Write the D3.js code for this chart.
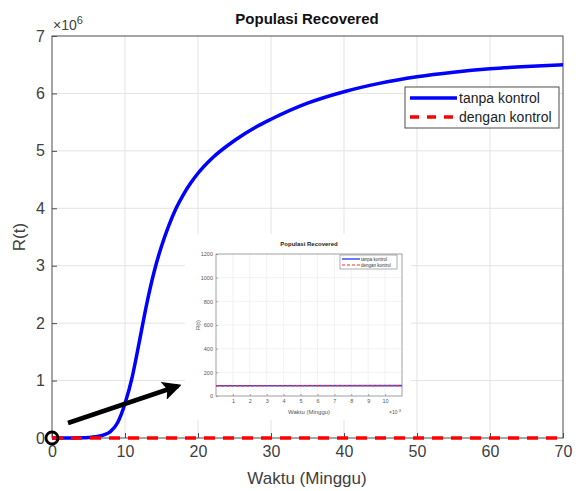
<!DOCTYPE html>
<html>
<head>
<meta charset="utf-8">
<script src="https://cdn.jsdelivr.net/npm/d3@7"></script>
<style>
  body { margin: 0; background: #fff; }
  text { font-family: "Liberation Sans", Arial, sans-serif; }
</style>
</head>
<body>
<div class="graph"></div>
<script>
// main chart data (R in units of 1e6)
var tWeeks = [0, 2, 4, 5, 6, 7, 8, 9, 10, 11, 12, 13, 14, 15, 16, 17, 18, 19, 20, 22, 25, 28, 30, 35, 40, 45, 50, 55, 60, 65, 70];
var rTanpa = [0, 0, 0.003, 0.008, 0.02, 0.05, 0.11, 0.27, 0.6, 1.07, 1.7, 2.35, 2.9, 3.34, 3.7, 4.0, 4.24, 4.44, 4.61, 4.88, 5.18, 5.42, 5.55, 5.83, 6.03, 6.18, 6.29, 6.37, 6.43, 6.47, 6.5];
var tDengan = [0, 70];
var rDengan = [0.002, 0.002];
var xTicks = [0, 10, 20, 30, 40, 50, 60, 70];
var yTicks = [0, 1, 2, 3, 4, 5, 6, 7];

// inset data (time in 1e-3 weeks)
var insetT = [0, 11];
var insetTanpa = [86, 88];
var insetDengan = [86, 88];
var insetXTicks = [1, 2, 3, 4, 5, 6, 7, 8, 9, 10];
var insetYTicks = [0, 200, 400, 600, 800, 1000, 1200];

var blue = "#0000ff", red = "#ff0000", gridColor = "#e3e3e3", axisColor = "#4d4d4d", labelColor = "#404040";

function createGraph() {
    var svgWidth = 584, svgHeight = 491;
    var margin = {top: 36, right: 21, bottom: 53, left: 52};
    var width = svgWidth - margin.left - margin.right;
    var height = svgHeight - margin.top - margin.bottom;

    var svg = d3.select("div.graph").append("svg")
        .attr("width", svgWidth)
        .attr("height", svgHeight);

    var g = svg.append("g")
        .attr("transform", "translate(" + margin.left + "," + margin.top + ")");

    var x = d3.scaleLinear().domain([0, 70]).range([0, width]);
    var y = d3.scaleLinear().domain([0, 7]).range([height, 0]);

    // grid
    g.append("g").selectAll("line.gx").data(xTicks.slice(1, -1)).enter().append("line")
        .attr("x1", d => x(d)).attr("x2", d => x(d)).attr("y1", 0).attr("y2", height)
        .attr("stroke", gridColor);
    g.append("g").selectAll("line.gy").data(yTicks.slice(1, -1)).enter().append("line")
        .attr("y1", d => y(d)).attr("y2", d => y(d)).attr("x1", 0).attr("x2", width)
        .attr("stroke", gridColor);

    // axes
    var xAxis = g.append("g")
        .attr("transform", "translate(0," + height + ")")
        .call(d3.axisBottom(x).tickValues(xTicks).tickFormat(d3.format("d")).tickSize(-5).tickPadding(8));
    var yAxis = g.append("g")
        .call(d3.axisLeft(y).tickValues(yTicks).tickFormat(d3.format("d")).tickSize(-5).tickPadding(7));
    [xAxis, yAxis].forEach(function (a) {
        a.select(".domain").remove();
        a.selectAll("line").attr("stroke", axisColor);
        a.selectAll("text").attr("fill", labelColor).style("font-size", "16px")
            .style("font-family", "Liberation Sans, Arial, sans-serif");
    });
    g.append("rect")
        .attr("width", width).attr("height", height)
        .attr("fill", "none").attr("stroke", axisColor).attr("stroke-width", 1);

    var line = d3.line()
        .x(function (d) { return x(d[0]); })
        .y(function (d) { return y(d[1]); })
        .curve(d3.curveMonotoneX);

    g.append("path")
        .datum(d3.zip(tWeeks, rTanpa))
        .attr("fill", "none")
        .attr("stroke", blue)
        .attr("stroke-width", 3.5)
        .attr("stroke-linejoin", "round")
        .attr("d", line);

    g.append("path")
        .datum(d3.zip(tDengan, rDengan))
        .attr("fill", "none")
        .attr("stroke", red)
        .attr("stroke-width", 3.5)
        .attr("stroke-dasharray", "11,8")
        .attr("d", line);

    // title and labels
    svg.append("text")
        .attr("x", 307).attr("y", 24)
        .attr("text-anchor", "middle")
        .attr("fill", "#111")
        .style("font-size", "15px").style("font-weight", "bold")
        .text("Populasi Recovered");

    var exp = svg.append("text")
        .attr("x", 53).attr("y", 30)
        .attr("fill", labelColor)
        .style("font-size", "14px");
    exp.append("tspan").text("\u00d710");
    exp.append("tspan").attr("dy", -6).style("font-size", "11px").text("6");

    svg.append("text")
        .attr("transform", "translate(25," + (margin.top + height / 2) + ") rotate(-90)")
        .attr("text-anchor", "middle")
        .attr("fill", labelColor)
        .style("font-size", "17px")
        .text("R(t)");

    svg.append("text")
        .attr("x", 307).attr("y", 484)
        .attr("text-anchor", "middle")
        .attr("fill", labelColor)
        .style("font-size", "17px")
        .text("Waktu (Minggu)");

    // legend
    var lg = svg.append("g").attr("transform", "translate(405,87)");
    lg.append("rect").attr("width", 154).attr("height", 41)
        .attr("fill", "#fff").attr("stroke", axisColor);
    lg.append("line").attr("x1", 5).attr("x2", 52).attr("y1", 11).attr("y2", 11)
        .attr("stroke", blue).attr("stroke-width", 3.5);
    lg.append("line").attr("x1", 5).attr("x2", 52).attr("y1", 30).attr("y2", 30)
        .attr("stroke", red).attr("stroke-width", 3.5).attr("stroke-dasharray", "9,8");
    lg.append("text").attr("x", 54).attr("y", 16).attr("fill", "#222")
        .style("font-size", "14px").text("tanpa kontrol");
    lg.append("text").attr("x", 54).attr("y", 35).attr("fill", "#222")
        .style("font-size", "14px").text("dengan kontrol");

    createInset(svg);

    // marker circle and arrow
    svg.append("circle")
        .attr("cx", margin.left).attr("cy", margin.top + height).attr("r", 6)
        .attr("fill", "none").attr("stroke", "#000").attr("stroke-width", 2.8);

    var defs = svg.append("defs");
    defs.append("marker")
        .attr("id", "head")
        .attr("viewBox", "0 0 10 10")
        .attr("refX", 8).attr("refY", 5)
        .attr("markerWidth", 4.2).attr("markerHeight", 4.2)
        .attr("orient", "auto")
        .append("path").attr("d", "M0,0 L10,5 L0,10 L2,5 Z").attr("fill", "#000");
    svg.append("line")
        .attr("x1", 68).attr("y1", 423).attr("x2", 178).attr("y2", 386)
        .attr("stroke", "#000").attr("stroke-width", 4.5)
        .attr("marker-end", "url(#head)");
}

function createInset(svg) {
    // inset screenshot panel
    var panel = svg.append("g");
    panel.append("rect")
        .attr("x", 185).attr("y", 234).attr("width", 226).attr("height", 186)
        .attr("fill", "#fff");

    var left = 216, top = 254, right = 402, bottom = 396;
    var ig = panel.append("g").attr("transform", "translate(" + left + "," + top + ")");
    var w = right - left, h = bottom - top;
    var x = d3.scaleLinear().domain([0, 11]).range([0, w]);
    var y = d3.scaleLinear().domain([0, 1200]).range([h, 0]);

    ig.append("g").selectAll("line").data(insetXTicks).enter().append("line")
        .attr("x1", d => x(d)).attr("x2", d => x(d)).attr("y1", 0).attr("y2", h)
        .attr("stroke", "#ececec").attr("stroke-width", 0.7);
    ig.append("g").selectAll("line").data(insetYTicks.slice(1, -1)).enter().append("line")
        .attr("y1", d => y(d)).attr("y2", d => y(d)).attr("x1", 0).attr("x2", w)
        .attr("stroke", "#ececec").attr("stroke-width", 0.7);

    var xa = ig.append("g").attr("transform", "translate(0," + h + ")")
        .call(d3.axisBottom(x).tickValues(insetXTicks).tickFormat(d3.format("d")).tickSize(-2).tickPadding(3));
    var ya = ig.append("g")
        .call(d3.axisLeft(y).tickValues(insetYTicks).tickFormat(d3.format("d")).tickSize(-2).tickPadding(3));
    [xa, ya].forEach(function (a) {
        a.select(".domain").remove();
        a.selectAll("line").attr("stroke", "#777").attr("stroke-width", 0.6);
        a.selectAll("text").attr("fill", "#555").style("font-size", "5.5px")
            .style("font-family", "Liberation Sans, Arial, sans-serif");
    });
    ig.append("rect").attr("width", w).attr("height", h)
        .attr("fill", "none").attr("stroke", "#777").attr("stroke-width", 0.7);

    var line = d3.line().x(d => x(d[0])).y(d => y(d[1]));
    ig.append("path").datum(d3.zip(insetT, insetTanpa))
        .attr("fill", "none").attr("stroke", "#3344ee").attr("stroke-width", 1.6).attr("d", line);
    ig.append("path").datum(d3.zip(insetT, insetDengan))
        .attr("fill", "none").attr("stroke", "#ee3333").attr("stroke-width", 1.2)
        .attr("stroke-dasharray", "3,2").attr("d", line);

    panel.append("text").attr("x", (left + right) / 2).attr("y", 246)
        .attr("text-anchor", "middle").attr("fill", "#222")
        .style("font-size", "6px").style("font-weight", "bold").text("Populasi Recovered");
    panel.append("text").attr("x", (left + right) / 2).attr("y", 414)
        .attr("text-anchor", "middle").attr("fill", "#555")
        .style("font-size", "6px").text("Waktu (Minggu)");
    var ex = panel.append("text").attr("x", 389).attr("y", 414).attr("fill", "#555").style("font-size", "5px");
    ex.append("tspan").text("\u00d710");
    ex.append("tspan").attr("dy", -2).style("font-size", "4px").text("-3");
    panel.append("text")
        .attr("transform", "translate(200," + ((top + bottom) / 2) + ") rotate(-90)")
        .attr("text-anchor", "middle").attr("fill", "#555")
        .style("font-size", "6px").text("R(t)");

    var il = panel.append("g").attr("transform", "translate(340,255)");
    il.append("rect").attr("width", 57).attr("height", 14)
        .attr("fill", "#fff").attr("stroke", "#777").attr("stroke-width", 0.6);
    il.append("line").attr("x1", 2).attr("x2", 20).attr("y1", 4).attr("y2", 4)
        .attr("stroke", "#3344ee").attr("stroke-width", 1.4);
    il.append("line").attr("x1", 2).attr("x2", 20).attr("y1", 10).attr("y2", 10)
        .attr("stroke", "#ee3333").attr("stroke-width", 1.2).attr("stroke-dasharray", "3,2");
    il.append("text").attr("x", 21).attr("y", 6).attr("fill", "#333").style("font-size", "4.5px").text("tanpa kontrol");
    il.append("text").attr("x", 21).attr("y", 12).attr("fill", "#333").style("font-size", "4.5px").text("dengan kontrol");
}

createGraph();
</script>
</body>
</html>
